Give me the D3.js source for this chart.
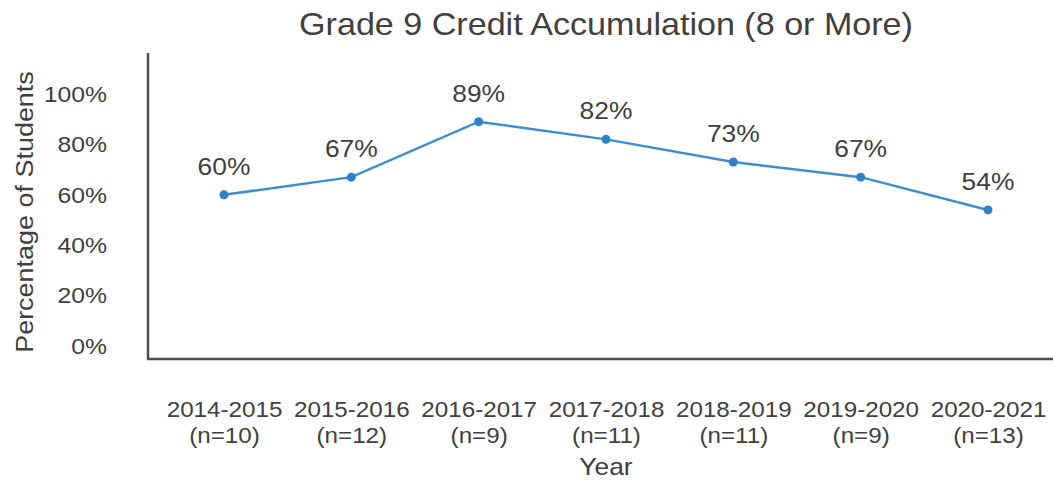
<!DOCTYPE html>
<html>
<head>
<meta charset="utf-8">
<script src="https://cdn.jsdelivr.net/npm/d3@7"></script>
<style>
  body { margin: 0; background: #fff; }
  text { font-family: "Liberation Sans", Arial, sans-serif; fill: #404040; }
</style>
</head>
<body>
<svg id="chart" width="1053" height="480"></svg>
<script>
// chart data
var years   = ["2014-2015", "2015-2016", "2016-2017", "2017-2018", "2018-2019", "2019-2020", "2020-2021"];
var counts  = ["(n=10)", "(n=12)", "(n=9)", "(n=11)", "(n=11)", "(n=9)", "(n=13)"];
var percent = [60, 67, 89, 82, 73, 67, 54];
var yTicks  = [0, 20, 40, 60, 80, 100];

var w = 1053, h = 480;
var stretch = 1.1; // reference text is a bit wider than Arial
var svg = d3.select("#chart");

// helper: place a horizontally stretched text
function placeText(sel, x, y) {
    sel.attr("transform", "translate(" + x + "," + y + ") scale(" + stretch + ",1)");
}

// scales
var xScale = d3.scalePoint()
               .domain(years)
               .range([224, 988]);

var yScale = d3.scaleLinear()
               .domain([0, 100])
               .range([346, 94]);

// title
svg.append("text")
   .call(placeText, 606, 35)
   .style("text-anchor", "middle")
   .style("font-size", "31px")
   .text("Grade 9 Credit Accumulation (8 or More)");

// y axis labels (no ticks, just text)
var yAxis = d3.axisLeft(yScale)
              .tickValues(yTicks)
              .tickFormat(function(d) { return d + "%"; })
              .tickSize(0)
              .tickPadding(0);

var gy = svg.append("g")
            .attr("transform", "translate(107,0)")
            .call(yAxis);
gy.select(".domain").remove();
gy.selectAll("text")
  .attr("transform", "scale(" + stretch + ",1)")
  .style("font-size", "22.5px")
  .style("fill", "#404040")
  .style("font-family", "Liberation Sans, Arial, sans-serif");

// x axis labels, two lines each
var xAxis = d3.axisBottom(xScale)
              .tickSize(0)
              .tickPadding(0)
              .tickFormat("");

var gx = svg.append("g")
            .call(xAxis);
gx.select(".domain").remove();

gx.selectAll(".tick")
  .append("text")
  .attr("transform", "translate(0,417) scale(" + stretch + ",1)")
  .style("text-anchor", "middle")
  .style("font-size", "22px")
  .text(function(d) { return d; });

gx.selectAll(".tick")
  .append("text")
  .attr("transform", "translate(0,443) scale(" + stretch + ",1)")
  .style("text-anchor", "middle")
  .style("font-size", "22px")
  .text(function(d) { return counts[years.indexOf(d)]; });

// axis lines
svg.append("line")
   .attr("x1", 148).attr("x2", 148)
   .attr("y1", 53).attr("y2", 359)
   .attr("stroke", "#4d4d4d")
   .attr("stroke-width", 2.5);

svg.append("line")
   .attr("x1", 147).attr("x2", w)
   .attr("y1", 359).attr("y2", 359)
   .attr("stroke", "#4d4d4d")
   .attr("stroke-width", 2.5);

// axis titles
svg.append("text")
   .attr("transform", "translate(33,212) rotate(-90) scale(" + stretch + ",1)")
   .style("text-anchor", "middle")
   .style("font-size", "24.5px")
   .text("Percentage of Students");

svg.append("text")
   .call(placeText, 606, 475)
   .style("text-anchor", "middle")
   .style("font-size", "24px")
   .text("Year");

// line
var line = d3.line()
             .x(function(d, i) { return xScale(years[i]); })
             .y(function(d) { return yScale(d); });

svg.append("path")
   .datum(percent)
   .attr("fill", "none")
   .attr("stroke", "#3f8dcf")
   .attr("stroke-width", 2.5)
   .attr("d", line);

svg.selectAll(".dot")
   .data(percent)
   .enter()
   .append("circle")
   .attr("class", "dot")
   .attr("cx", function(d, i) { return xScale(years[i]); })
   .attr("cy", function(d) { return yScale(d); })
   .attr("r", 4.5)
   .attr("fill", "#2f82c9");

// data labels
svg.selectAll(".lbl")
   .data(percent)
   .enter()
   .append("text")
   .attr("class", "lbl")
   .each(function(d, i) {
       d3.select(this).call(placeText, xScale(years[i]), yScale(d) - 20);
   })
   .style("text-anchor", "middle")
   .style("font-size", "24px")
   .text(function(d) { return d + "%"; });
</script>
</body>
</html>
